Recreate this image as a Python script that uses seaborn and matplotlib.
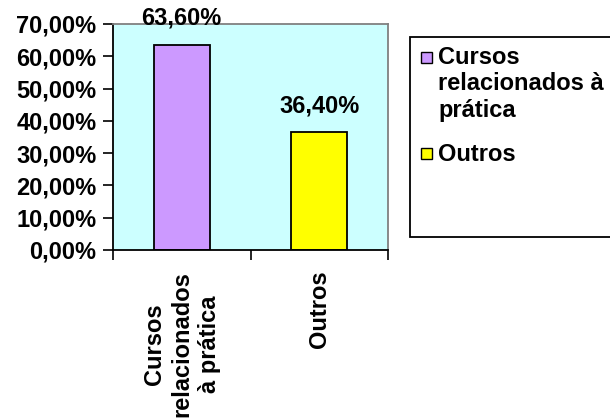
import matplotlib
matplotlib.use("Agg")
import matplotlib.pyplot as plt
from matplotlib.patches import Rectangle
import seaborn as sns
import pandas as pd

categories = ["Cursos relacionados à prática", "Outros"]
tick_labels = ["Cursos\nrelacionados\nà prática", "Outros"]
legend_lines = [["Cursos", "relacionados à", "prática"], ["Outros"]]
values = [63.60, 36.40]
colors = ["#CC99FF", "#FFFF00"]

sns.set_style("white")
plt.rcParams["font.family"] = ["Liberation Sans", "DejaVu Sans"]
plt.rcParams["font.weight"] = "bold"
plt.rcParams["text.color"] = "black"
plt.rcParams["xtick.color"] = "black"
plt.rcParams["ytick.color"] = "black"
FS = 17

df = pd.DataFrame({"cat": categories, "val": values})

W, H = 610, 419
fig = plt.figure(figsize=(W / 100, H / 100), dpi=100)
ax = fig.add_axes([113 / W, 1 - 250 / H, 275 / W, 226 / H])
ax.set_facecolor("#CCFFFF")

sns.barplot(data=df, x="cat", y="val", hue="cat", palette=colors, width=0.41,
            saturation=1, edgecolor="black", linewidth=1.3, legend=False, ax=ax)

def pct(v):
    return f"{v:.2f}%".replace(".", ",")

for i, v in enumerate(values):
    ax.annotate(pct(v), (i, v), xytext=(0, 19), textcoords="offset points",
                ha="center", va="center", fontsize=FS, fontweight="bold",
                annotation_clip=False)

ax.set_ylim(0, 70)
ax.set_xlim(-0.5, 1.5)
ax.set_yticks(range(0, 71, 10))
ax.set_yticklabels([pct(t) for t in range(0, 71, 10)], fontsize=FS, fontweight="bold")
ax.tick_params(axis="y", length=7, width=1.2, color="black", direction="out", left=True, pad=5)

ax.set_xticks([-0.5, 0.5, 1.5])
ax.set_xticklabels([])
ax.set_xticks([0, 1], minor=True)
ax.set_xticklabels(tick_labels, minor=True, rotation=90, fontsize=FS,
                   fontweight="bold", va="top", ha="center",
                   multialignment="center", linespacing=1.25)
ax.tick_params(axis="x", which="major", length=7, width=1.2, color="black", direction="out", bottom=True)
ax.tick_params(axis="x", which="minor", length=0, pad=15)
ax.set_xlabel("")
ax.set_ylabel("")

for s in ["left", "bottom"]:
    ax.spines[s].set_color("black")
    ax.spines[s].set_linewidth(1.3)
for s in ["top", "right"]:
    ax.spines[s].set_color("#808080")
    ax.spines[s].set_linewidth(1.3)

# legend box, drawn in pixel positions of the figure
fig.patches.append(Rectangle((410 / W, 1 - 237 / H), 210 / W, 200 / H,
                             transform=fig.transFigure, facecolor="white",
                             edgecolor="black", linewidth=1.3))
line_y = [[58, 84, 110], [154]]
for color, lines, ys in zip(colors, legend_lines, line_y):
    fig.patches.append(Rectangle((421 / W, 1 - (ys[0] + 5) / H), 11 / W, 11 / H,
                                 transform=fig.transFigure, facecolor=color,
                                 edgecolor="black", linewidth=1))
    for txt, y in zip(lines, ys):
        fig.text(438 / W, 1 - y / H, txt, ha="left", va="center",
                 fontsize=FS, fontweight="bold")

fig.savefig("out.png", dpi=100)
